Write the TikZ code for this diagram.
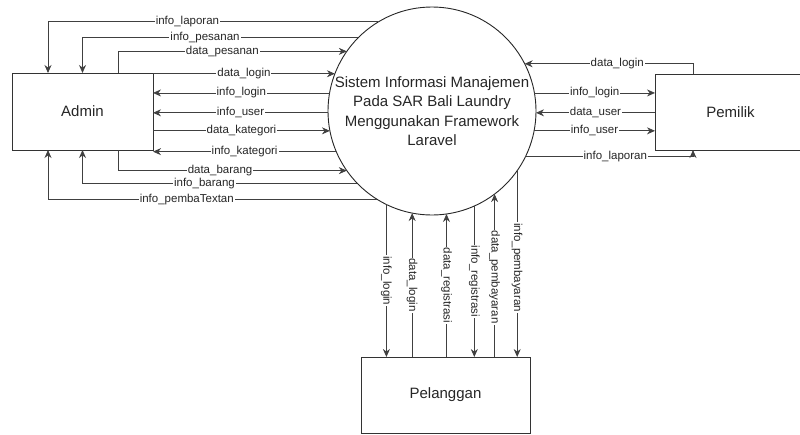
\documentclass[tikz,border=0pt]{standalone}
\usepackage{fontspec}
\setmainfont{Liberation Sans}
\usetikzlibrary{arrows.meta}
\begin{document}
\begin{tikzpicture}[x=1pt,y=-1pt,
  ent/.style={draw=black!80, fill=white, line width=0.9pt, inner sep=0pt, outer sep=0pt, font=\fontsize{15}{18}\selectfont, text=black!85},
  proc/.style={circle, draw=black!85, fill=white, line width=0.9pt, minimum size=208pt, inner sep=0pt, outer sep=0pt, align=center, font=\fontsize{15}{19.5}\selectfont, text=black!85},
  flow/.style={draw=black!75, line width=0.8pt},
  arr/.style={flow, -{Stealth[length=8pt,width=7pt]}},
  lbl/.style={fill=white, inner sep=1pt, font=\fontsize{11.5}{13}\selectfont, text=black!85},
  vlbl/.style={lbl, rotate=-90},
]
\useasboundingbox (0,0) rectangle (800,434);

\node[proc] (sys) at (432,111) {Sistem Informasi Manajemen\\Pada SAR Bali Laundry\\Menggunakan Framework\\Laravel};
\node[ent, minimum width=141pt, minimum height=77pt] (admin) at (82.5,111.5) {Admin};
\node[ent, minimum width=151pt, minimum height=76pt] (pem) at (730.5,112) {Pemilik};
\node[ent, minimum width=169pt, minimum height=76pt] (pel) at (445.5,395) {Pelanggan};

% Admin flows
\draw[arr] (sys.121.14) -| node[lbl,pos=0.289]{info\_laporan} ([xshift=36pt]admin.north west);
\draw[arr] (sys.135.42) -| node[lbl,pos=0.278]{info\_pesanan} (admin.north);
\draw[arr] ([xshift=106pt]admin.north west) |- node[lbl,pos=0.728]{data\_pesanan} (sys.145.44);
\draw[arr] (admin.east |- sys.159.16) -- node[lbl]{data\_login} (sys.159.16);
\draw[arr] (sys.170.03) -- node[lbl]{info\_login} (admin.east |- sys.170.03);
\draw[arr] (sys.181.10) -- node[lbl]{info\_user} (admin.east |- sys.181.10);
\draw[arr] (admin.east |- sys.191.09) -- node[lbl]{data\_kategori} (sys.191.09);
\draw[arr] (sys.203.22) -- node[lbl]{info\_kategori} (admin.east |- sys.203.22);
\draw[arr] ([xshift=106pt]admin.south west) |- node[lbl,pos=0.723]{data\_barang} (sys.215.24);
\draw[arr] (sys.224.58) -| node[lbl,pos=0.278]{info\_barang} (admin.south);
\draw[arr] (sys.238.86) -| node[lbl,pos=0.289]{info\_pembaTextan} ([xshift=36pt]admin.south west);

% Pemilik flows
\draw[arr] ([xshift=38pt]pem.north west) |- node[lbl,pos=0.725]{data\_login} (sys.27.49);
\draw[arr] (sys.10.53) -- node[lbl]{info\_login} (pem.west |- sys.10.53);
\draw[arr] (pem.west |- sys.-1.10) -- node[lbl]{data\_user} (sys.-1.10);
\draw[arr] (sys.-11.09) -- node[lbl]{info\_user} (pem.west |- sys.-11.09);
\draw[arr] (sys.-26.25) -| node[lbl,pos=0.268]{info\_laporan} ([xshift=38pt]pem.south west);

% Pelanggan flows
\draw[arr] (sys.-116.87) -- node[vlbl]{info\_login} (sys.-116.87 |- pel.north);
\draw[arr] (sys.-101.09 |- pel.north) -- node[vlbl]{data\_login} (sys.-101.09);
\draw[arr] (sys.-82.26 |- pel.north) -- node[vlbl]{data\_registrasi} (sys.-82.26);
\draw[arr] (sys.-66.18) -- node[vlbl]{info\_registrasi} (sys.-66.18 |- pel.north);
\draw[arr] (sys.-53.40 |- pel.north) -- node[vlbl,pos=0.49]{data\_pembayaran} (sys.-53.40);
\draw[arr] (sys.-35.19) -- node[vlbl,pos=0.52]{info\_pembayaran} (sys.-35.19 |- pel.north);
\end{tikzpicture}
\end{document}
